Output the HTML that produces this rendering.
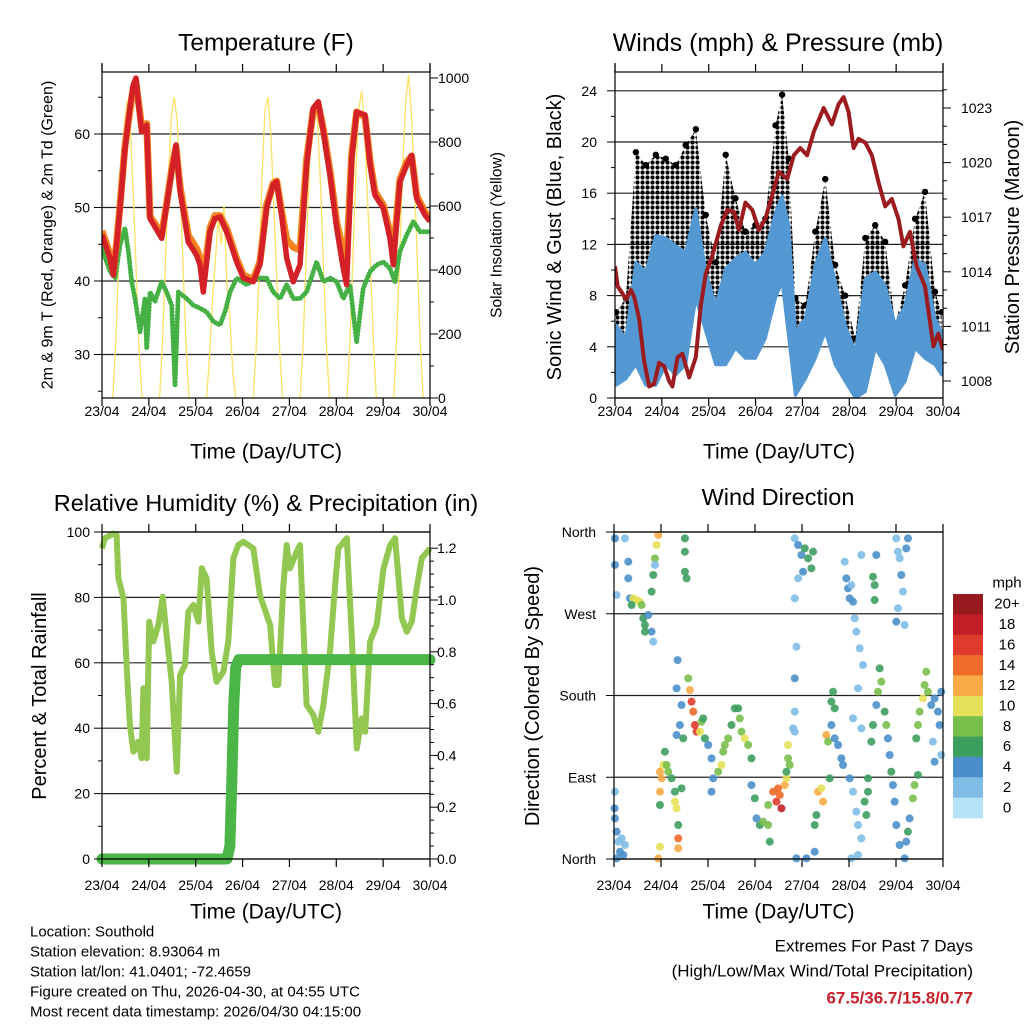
<!DOCTYPE html>
<html><head><meta charset="utf-8"><style>
html,body{margin:0;padding:0;background:#fff;}
svg{display:block;font-family:"Liberation Sans",sans-serif;}
</style></head><body>
<svg id="c" width="1024" height="1024" viewBox="0 0 1024 1024">
<defs>
<pattern id="dotpat" width="5" height="5" patternUnits="userSpaceOnUse">
<circle cx="2.5" cy="2.5" r="2.1" fill="#000"/>
</pattern>
</defs>
</svg>
<script>
// ---------- Temperature panel data ----------
const tempHours=[0,4.1,5.8,7.5,9.2,11.8,14.3,16.0,17.4,18.6,20.3,22.9,24.6,30.6,33.1,35.7,37.9,40.0,44.2,48.5,50.2,51.9,55.3,57.9,60.4,63.8,69.0,72.4,77.5,80.9,84.3,87.7,89.5,92.0,94.6,98.0,101.4,104.8,108.2,110.8,113.4,116.8,120.2,123.6,125.3,127.9,130.4,134.7,137.3,139.8,144.1,147.5,149.2,152.6,156.1,158.6,161.2,165.4,168];
const temp2m=[46.3,43.1,40.8,44.9,49.9,58.0,63.5,66.7,67.6,64.4,60.3,61.2,48.5,45.8,50.3,54.9,58.5,52.2,45.3,43.5,42.2,38.5,46.7,48.5,48.7,46.7,42.6,40.4,39.9,42.2,49.9,53.1,53.5,49.0,43.1,39.9,42.2,55.8,63.5,64.4,60.3,54.4,47.2,41.7,39.5,56.7,63.0,62.6,55.8,51.7,49.9,45.8,42.2,53.5,55.8,57.1,51.2,49.0,48.1];
const temp9m=[46.8,43.6,41.3,45.2,50.3,58.4,63.2,66.2,67.0,64.6,61.0,61.4,48.8,46.4,50.5,55.2,58.2,52.8,46.2,44.4,43.2,40.0,47.2,48.9,48.9,47.2,43.0,40.8,40.2,42.6,50.3,53.3,53.6,49.5,45.6,44.6,44.2,56.5,63.2,64.0,60.6,55.0,48.0,44.0,43.0,57.2,63.0,62.3,56.3,52.2,50.3,46.6,43.5,53.8,56.2,57.0,51.6,49.4,48.4];
const dewHours=[0,4.1,6.7,9.2,11.8,13.5,15.2,16.9,19.5,22.0,22.9,24.6,27.1,30.6,33.1,35.7,37.4,39.1,43.4,46.8,50.2,53.6,57.0,60.4,63.0,65.6,69.0,74.1,79.2,84.3,87.7,91.2,94.6,98.0,101.4,104.8,109.9,113.4,116.8,120.2,123.6,127.0,130.4,133.8,137.3,140.7,144.1,147.5,150.0,152.6,156.1,159.5,162.9,168];
const dew2m=[44.4,41.3,40.4,44.9,47.2,44.0,39.9,37.6,33.1,37.6,30.8,38.5,37.2,39.9,38.5,36.7,25.9,38.5,37.6,36.7,36.3,35.8,34.5,34.0,35.8,38.5,40.4,39.5,40.4,40.4,38.5,37.6,39.5,37.6,37.6,38.5,42.6,39.9,40.4,39.9,37.6,39.5,31.7,39.0,41.3,42.2,42.6,41.7,39.9,44.0,46.3,48.1,46.7,46.7];
const solarHours=[5.5,7,8.5,10,11.5,13,14.5,16,17.5,19,20.5, 29.5,31,32.5,34,35.5,37,38.5,40,41.5,43,44.5, 53.5,55,56.5,58,59.5,61,62.5,64,65.5,67,68.5, 77.5,79,80.5,82,83.5,85,86.5,88,89.5,91,92.5, 101.5,103,104.5,106,107.5,109,110.5,112,113.5,115,116.5, 125.5,127,128.5,130,131.5,133,134.5,136,137.5,139,140.5, 149.5,151,152.5,154,155.5,157,158.5,160,161.5,163,164.5];
const solarVals=[0,170,420,650,860,930,850,640,400,150,0, 0,180,430,680,880,940,870,660,420,170,0, 0,120,300,420,560,480,600,350,250,80,0, 0,160,400,700,900,940,820,600,380,150,0, 0,170,430,690,880,920,860,650,400,160,0, 0,180,440,700,900,960,850,620,420,170,0, 0,200,450,720,920,1010,880,680,430,180,0];
const tempTicks=[30,40,50,60];
const solarTicks=[0,200,400,600,800,1000];
const dayLabels=["23/04","24/04","25/04","26/04","27/04","28/04","29/04","30/04"];
// ---------- Wind panel data ----------
const windHours=[0.5,5.6,10.7,15.8,20.9,26.0,31.1,36.2,41.4,46.5,51.6,56.7,61.7,66.8,71.9,77.0,82.2,85.6,89.0,92.4,97.5,102.6,107.7,112.8,117.9,123.1,128.2,133.3,138.4,143.5,148.6,153.7,158.8,163.9,167.3];
const sustHigh=[5.7,4.65,10.6,9.85,12.7,12.5,11.9,11.4,14.8,9.85,7.25,10.1,10.9,11.4,10.4,11.4,14.5,15.8,13.5,5.2,6.2,10.4,12.5,9.1,5.7,3.6,9.3,9.85,8.8,5.7,7.25,10.9,10.4,6.2,5.2];
const sustLow=[1.0,1.5,2.6,1.0,1.0,2.6,1.8,2.6,7.8,5.2,2.6,2.6,3.9,3.1,3.1,4.65,7.8,9.1,4.65,0.2,1.5,3.1,5.2,2.6,1.3,0,0.5,3.9,2.6,0.2,1.3,3.9,3.1,2.6,1.8];
const gustHigh=[6.7,7.8,19.2,18.2,19.0,18.7,18.2,19.75,21.0,14.3,10.6,19.0,15.6,13.0,13.5,14.0,21.3,23.7,18.7,7.8,7.25,13.0,17.1,10.4,8.0,4.65,12.5,13.5,12.2,5.7,8.8,14.0,16.1,8.3,6.7];
const gustLow=[3.6,3.6,9.1,7.8,9.1,9.85,8.3,11.4,12.5,7.8,5.7,10.4,7.8,6.5,7.25,7.8,12.5,15.6,9.1,2.6,3.1,3.9,10.4,5.2,3.9,1.3,5.2,7.8,6.2,4.4,4.65,7.8,9.1,4.65,3.9];
const presHours=[0,1.4,3.9,5.6,8.2,9.9,12.4,14.9,17.5,20.1,22.6,25.2,27.7,29.4,32.0,34.5,38.0,41.4,43.9,46.5,49.9,54.1,57.5,60.9,63.5,66.8,70.3,73.7,77.0,80.5,83.9,88.2,91.6,94.9,98.4,101.8,106.9,111.1,114.5,117.1,119.6,122.2,124.7,128.2,131.6,135.0,138.4,141.8,145.2,147.7,151.1,154.5,158.8,163.1,165.6,168];
const presVals=[1014.3,1013.2,1012.8,1012.5,1013.0,1012.6,1011.4,1009.1,1007.7,1007.85,1009.0,1008.8,1008.0,1007.7,1009.3,1009.5,1008.2,1009.3,1012.1,1013.9,1014.9,1016.5,1017.4,1017.3,1016.3,1017.8,1017.4,1016.3,1016.9,1018.2,1019.5,1019.1,1020.4,1020.8,1020.4,1021.7,1023.0,1022.1,1023.2,1023.6,1022.8,1020.8,1021.3,1021.1,1020.4,1018.9,1017.6,1018.0,1016.9,1015.4,1016.2,1014.3,1013.2,1009.9,1010.6,1009.7];
const windTicks=[0,4,8,12,16,20,24];
const presTicks=[1008,1011,1014,1017,1020,1023];
// ---------- RH panel data ----------
const rhHours=[0,1.5,5.8,7.5,8.4,11.0,12.6,14.3,16.1,18.6,20.3,21.2,22.9,24.2,26.3,28.9,31.1,33.1,35.7,38.3,40.0,42.5,44.2,46.8,49.4,51.1,53.6,56.2,58.7,62.2,64.7,67.3,69.8,72.4,77.5,80.9,86.1,88.6,90.3,92.9,94.6,96.3,99.7,101.4,103.1,104.8,108.3,110.8,113.4,116.8,119.4,121.1,125.4,127.9,130.5,133.0,134.8,137.3,140.7,144.2,147.6,150.1,153.6,156.1,158.7,161.2,163.8,168];
const rhVals=[95.0,98.1,99.5,99.1,85.8,79.7,59.3,41.0,32.8,35.9,30.8,52.2,30.8,72.6,66.5,71.6,80.2,68.5,54.2,26.7,56.3,59.3,75.6,77.7,72.6,88.9,85.8,63.4,54.2,57.3,66.5,92.0,96.0,97.0,95.0,80.7,71.6,53.2,53.2,83.8,96.0,88.9,94.0,96.0,71.6,47.1,44.0,38.9,47.1,63.4,83.8,95.0,98.1,68.5,33.8,43.0,38.9,66.5,71.6,88.9,96.0,98.1,73.6,69.5,72.6,82.8,92.0,95.0];
const precipHours=[0,64,65.5,66.5,67.5,68.5,70,168];
const precipVals=[0,0,0.05,0.3,0.6,0.74,0.77,0.77];
const rhTicks=[0,20,40,60,80,100];
const precipTicks=[0.0,0.2,0.4,0.6,0.8,1.0,1.2];
// ---------- Wind direction panel data ----------
const dirHours=[0.3,0.5,1.35,2.2,3.05,4.75,5.6,1.35,3.9,0.5, 0.5,0.5,1.35,5.6,7.3,7.3,8.15,
9.85,11.55,13.25,14.1,9.0,14.95,15.8,17.5,19.2,20.05,15.8, 19.2,20.05,20.9,21.75,22.6,20.9, 22.6,23.45,
23.45,24.3,25.15,26.85,27.7,29.4,23.45,23.45,26.0,31.1,31.1,31.95,32.8,32.8,32.8,34.5,31.95,33.65,35.35,34.5,
36.2,36.2,36.2,37.05,32.5,31.95,
37.9,38.75,39.6,40.45,41.3,42.15,43.85,44.7,45.55,46.4,48.1,49.8,50.65,49.8,
53.2,54.9,55.75,56.6,58.3,60.0,61.7,63.4,64.25,65.1,66.8,68.5,70.2,
70.2,71.9,72.75,74.45,76.15,78.7,79.55,78.7,
81.25,82.95,84.65,85.5,83.8,87.2,88.05,88.9,88.9,89.75,88.05,
92.3,94.0,95.7,97.4,99.1,100.8,101.65,96.55,94.0,92.3,93.15,92.3,92.3,92.3,91.45,93.15,98.25,
102.5,102.5,103.35,104.2,105.9,106.75,108.45,109.3,111.0,112.7,114.4,116.1,112.7,111.85,111.0,116.95,110.15,
117.8,118.65,119.5,120.35,122.05,122.9,123.75,121.2,125.45,127.15,126.3,132.25,133.1,133.1,133.95,
120.35,122.05,123.75,124.6,126.3,128.0,129.7,129.7,128.85,121.2,124.6,122.05,124.6,126.3,
131.4,132.25,133.95,134.8,135.65,136.5,138.2,139.05,139.9,140.75,141.6,142.45,143.3,
144.15,145.0,145.85,146.7,147.55,145.0,144.15,148.4,149.25,150.1,
144.15,145.85,148.4,149.25,150.1,150.95,152.65,153.5,155.2,
154.35,155.2,156.05,157.75,158.6,159.45,160.3,162.0,163.7,165.4,166.25,167.1,162.85,167.1,163.7];
const dirDegrees=[55.8,44.7,30.1,19.1,8.0,4.4,15.4,0.7,22.7,74.1, 353,323.7,290.6,353,327.3,309,287,
287,285.1,283.3,279.6,279.6,265,257.6,268.6,250.3,239.3,250.3, 294.3,312.7,331,345.7,356.7,323.7, 0.7,13.6,
96.1,88.8,103.5,103.5,96.1,88.8,74.1,59.4,118.1,74.1,63.1,55.8,37.4,22.7,11.7,77.8,136.5,147.5,132.8,169.5,
353,338.3,316.3,309,219,187.9,
198.9,186,173.2,162.2,147.5,140.2,140.2,151.2,154.8,132.8,125.5,110.8,88.8,74.1,
96.1,103.5,118.1,125.5,132.8,147.5,165.9,165.9,154.8,140.2,132.8,125.5,110.8,
81.4,66.8,44.7,37.4,41.1,37.4,19.1,59.4,
74.1,63.1,70.4,55.8,77.8,81.4,88.8,110.8,125.5,103.5,96.1,
353,345.7,334.7,342,331,320,338.3,316.3,309,287,233.7,198.9,162.2,140.2,143.8,0.7,0.7,
8.0,37.4,48.4,74.1,77.8,63.1,136.5,129.2,147.5,132.8,125.5,110.8,165.9,184.2,173.2,103.5,88.8,
327.3,309,298,287,283.3,265,250.3,301.6,231.9,213.6,334.7,310.8,301.6,285.1,334.7,
88.8,74.1,52.1,37.4,22.7,63.1,74.1,88.8,48.4,0.7,4.4,154.8,187.9,143.8,
129.2,147.5,169.5,184.2,209.9,195.2,162.2,147.5,132.8,114.5,96.1,81.4,63.1,
353,338.3,331,312.7,294.3,276,261.3,257.6,342,353,
37.4,15.4,0.7,19.1,30.1,44.7,66.8,81.4,92.5,
132.8,147.5,162.2,176.9,191.5,206.2,184.2,169.5,176.9,162.2,147.5,184.2,129.2,114.5,107.1];
const dirSpeeds=[4,4,4,3,4,4,2,4,2,2, 4,4,2,2,4,4,4,
10,10,10,8,6,6,6,4,4,2,6, 6,6,8,10,12,2, 12,10,
12,12,10,8,8,6,12,6,6,6,10,10,6,14,12,6,4,4,6,4,
6,6,6,6,4,4,
8,12,16,14,16,16,10,8,6,6,4,4,4,4,
8,10,8,8,8,6,6,6,8,8,10,8,6,
4,6,4,6,8,8,6,8,
14,16,14,18,14,12,10,8,10,8,6,
2,4,4,6,6,6,6,4,2,2,2,4,2,2,2,4,4,
4,6,6,12,10,12,12,8,4,4,4,4,6,6,6,4,6,
2,4,4,4,4,2,2,2,2,2,2,6,6,6,4,
4,2,2,2,2,6,6,6,6,2,2,2,2,2,
6,6,4,8,6,8,6,8,4,4,6,4,4,
2,2,2,4,2,2,4,2,4,4,
4,4,4,4,6,4,8,8,6,
6,8,8,10,8,8,8,4,4,4,4,4,2,2,4];
const dirTickDeg=[0,90,180,270,360];
const dirTickLabels=["North","East","South","West","North"];
const speedBins=[0,2,4,6,8,10,12,14,16,18,20];
const speedBinLabels=["0","2","4","6","8","10","12","14","16","18","20+"];
const speedColors=["#b5e2f8","#7fbde7","#4a8fca","#3d9f5f","#79bf4c","#e5e158","#f7aa45","#ef6a2b","#df3b2c","#c11e27","#971a1e"];

const NS="http://www.w3.org/2000/svg";
const svg=document.getElementById('c');
function mk(tag,attrs,parent){const e=document.createElementNS(NS,tag);for(const k in attrs)e.setAttribute(k,attrs[k]);(parent||svg).appendChild(e);return e;}
function txt(s,x,y,size,anchor,parent,extra){const e=mk('text',Object.assign({x:x,y:y,'font-size':size,'text-anchor':anchor||'middle','dominant-baseline':'central',fill:'#000'},extra||{}),parent);e.textContent=s;return e;}
function pts(xs,ys,fx,fy){return xs.map((h,i)=>fx(h).toFixed(1)+','+fy(ys[i]).toFixed(1)).join(' ');}

function frame(x0,x1,y0,y1,name){
  const g=mk('g',{});
  
  
  mk('rect',{x:x0,y:y0,width:x1-x0,height:y1-y0,fill:'none',stroke:'#000','stroke-width':1.2},g);
  return g;
}
function dayAxis(x0,x1,yTop,yBot,labelY,titleY,name){
  const g=mk('g',{});
  
  
  const fx=h=>x0+h*(x1-x0)/168;
  dayLabels.forEach((l,i)=>{
    const x=fx(i*24);
    mk('line',{x1:x,x2:x,y1:yBot,y2:yBot+8,stroke:'#000','stroke-width':1.2},g);
    mk('line',{x1:x,x2:x,y1:yTop,y2:yTop-8,stroke:'#000','stroke-width':1.2},g);
    const t=txt(l,x,labelY,14,'middle',g);
    
    
  });
  const tt=txt('Time (Day/UTC)',(x0+x1)/2,titleY,21,'middle',g);
  
  
}

// ================= PANEL 1 : Temperature =================
(function(){
  const X0=102,X1=430,Y0=72,Y1=398;
  const fx=h=>X0+h*(X1-X0)/168;
  const fy=t=>281-(t-40)*7.35;
  const fs=v=>398-v*0.32;
  const g=mk('g',{});
  
  
  const clip=mk('clipPath',{id:'cp1'},g);mk('rect',{x:X0,y:Y0,width:X1-X0,height:Y1-Y0},clip);
  tempTicks.forEach(t=>{mk('line',{x1:X0,x2:X1,y1:fy(t),y2:fy(t),stroke:'#222','stroke-width':1.2},g);});
  const plot=mk('g',{'clip-path':'url(#cp1)'},g);
  const s=mk('polyline',{points:pts(solarHours,solarVals,fx,fs),fill:'none',stroke:'#fde165','stroke-width':1.3},plot);
  
  
  const d=mk('polyline',{points:pts(dewHours,dew2m,fx,fy),fill:'none',stroke:'#45b043','stroke-width':5,'stroke-dasharray':'0.1 3.2','stroke-linecap':'round','stroke-linejoin':'round'},plot);
  
  
  const o=mk('polyline',{points:pts(tempHours,temp9m,fx,fy),fill:'none',stroke:'#f4821f','stroke-width':7,'stroke-linejoin':'round'},plot);
  
  
  const r=mk('polyline',{points:pts(tempHours,temp2m,fx,fy),fill:'none',stroke:'#d42027','stroke-width':5.5,'stroke-linejoin':'round'},plot);
  
  
  frame(X0,X1,Y0,Y1,'temperature');
  mk('line',{x1:X0,x2:X0,y1:63,y2:Y0,stroke:'#000','stroke-width':1.2},g);
  mk('line',{x1:X1,x2:X1,y1:63,y2:Y0,stroke:'#000','stroke-width':1.2},g);
  for(let t=25;t<=65;t+=5){const y=fy(t);if(y<Y0||y>Y1)continue;const L=t%10===0?8:4;mk('line',{x1:X0-L,x2:X0,y1:y,y2:y,stroke:'#000'},g);}
  tempTicks.forEach(t=>{const e=txt(String(t),X0-12,fy(t),14,'end',g);
    
    });
  for(let v=0;v<=1000;v+=100){const L=v%200===0?8:4;mk('line',{x1:X1,x2:X1+L,y1:fs(v),y2:fs(v),stroke:'#000'},g);}
  solarTicks.forEach(v=>{const e=txt(String(v),X1+8,fs(v),14,'start',g);
    
    });
  dayAxis(X0,X1,Y0,Y1,411,452,'temperature');
  const t=txt('Temperature (F)',266,43,24.5,'middle',g);
  
  
  const yl=txt('2m & 9m T (Red, Orange) & 2m Td (Green)',0,0,16,'middle',g,{transform:'translate(48,235) rotate(-90)'});
  
  
  const yr=txt('Solar Insolation (Yellow)',0,0,15.5,'middle',g,{transform:'translate(497,235) rotate(-90)'});
  
  
})();

// ================= PANEL 2 : Winds & Pressure =================
(function(){
  const X0=615,X1=943,Y0=72,Y1=398;
  const fx=h=>X0+h*(X1-X0)/168;
  const fy=m=>398-m*12.8;
  const fp=p=>381-(p-1008)*18.2;
  const g=mk('g',{});
  
  
  const clip=mk('clipPath',{id:'cp2'},g);mk('rect',{x:X0,y:Y0,width:X1-X0,height:Y1-Y0},clip);
  windTicks.forEach(m=>{mk('line',{x1:X0,x2:X1,y1:fy(m),y2:fy(m),stroke:'#222','stroke-width':1.2},g);});
  const plot=mk('g',{'clip-path':'url(#cp2)'},g);
  const band=(hi,lo)=>windHours.map((h,i)=>fx(h).toFixed(1)+','+fy(hi[i]).toFixed(1)).join(' ')+' '+windHours.slice().reverse().map((h,j)=>{const i=windHours.length-1-j;return fx(h).toFixed(1)+','+fy(lo[i]).toFixed(1);}).join(' ');
  const gb=mk('polygon',{points:band(gustHigh,gustLow),fill:'url(#dotpat)',stroke:'none'},plot);
  
  
  windHours.forEach((h,i)=>{const c=mk('circle',{cx:fx(h),cy:fy(gustHigh[i]),r:3.2,fill:'#000'},plot);
    
    });
  const sb=mk('polygon',{points:band(sustHigh,sustLow),fill:'#5398d2',stroke:'#5398d2','stroke-width':3,'stroke-linejoin':'round'},plot);
  
  
  const p=mk('polyline',{points:pts(presHours,presVals,fx,fp),fill:'none',stroke:'#9b1b1f','stroke-width':4,'stroke-linejoin':'round'},plot);
  
  
  frame(X0,X1,Y0,Y1,'wind');
  mk('line',{x1:X0,x2:X0,y1:63,y2:Y0,stroke:'#000','stroke-width':1.2},g);
  mk('line',{x1:X1,x2:X1,y1:63,y2:Y0,stroke:'#000','stroke-width':1.2},g);
  for(let m=0;m<=26;m+=2){const y=fy(m);if(y<Y0)continue;const L=m%4===0?8:4;mk('line',{x1:X0-L,x2:X0,y1:y,y2:y,stroke:'#000'},g);}
  windTicks.forEach(m=>{const e=txt(String(m),597,fy(m),14,'end',g);
    
    });
  for(let v=1007;v<=1024;v++){const y=fp(v);if(y<Y0||y>Y1)continue;const L=(v-1008)%3===0?8:4;mk('line',{x1:X1,x2:X1+L,y1:y,y2:y,stroke:'#000'},g);}
  presTicks.forEach(v=>{const e=txt(String(v),961,fp(v),14,'start',g);
    
    });
  dayAxis(X0,X1,Y0,Y1,411,452,'wind');
  const t=txt('Winds (mph) & Pressure (mb)',778,43,25,'middle',g);
  
  
  const yl=txt('Sonic Wind & Gust (Blue, Black)',0,0,20,'middle',g,{transform:'translate(555,237) rotate(-90)'});
  
  
  const yr=txt('Station Pressure (Maroon)',0,0,20,'middle',g,{transform:'translate(1013,237) rotate(-90)'});
  
  
})();

// ================= PANEL 3 : RH & Precip =================
(function(){
  const X0=102,X1=430,Y0=532,Y1=859;
  const fx=h=>X0+h*(X1-X0)/168;
  const fy=v=>859-v*3.27;
  const fr=v=>859-v*259;
  const g=mk('g',{});
  
  
  const clip=mk('clipPath',{id:'cp3'},g);mk('rect',{x:X0-8,y:Y0-2,width:X1-X0+16,height:Y1-Y0+8},clip);
  rhTicks.forEach(v=>{mk('line',{x1:X0,x2:X1,y1:fy(v),y2:fy(v),stroke:'#222','stroke-width':1.2},g);});
  const plot=mk('g',{'clip-path':'url(#cp3)'},g);
  const rh=mk('polyline',{points:pts(rhHours,rhVals,fx,fy),fill:'none',stroke:'#92c852','stroke-width':6,'stroke-linejoin':'round'},plot);
  
  
  const pr=mk('polyline',{points:pts(precipHours,precipVals,fx,fr),fill:'none',stroke:'#4bb548','stroke-width':11,'stroke-linejoin':'round','stroke-linecap':'round'},plot);
  
  
  frame(X0,X1,Y0,Y1,'humidity');
  for(let v=0;v<=100;v+=10){const L=v%20===0?8:4;mk('line',{x1:X0-L,x2:X0,y1:fy(v),y2:fy(v),stroke:'#000'},g);}
  rhTicks.forEach(v=>{const e=txt(String(v),X0-12,fy(v),14,'end',g);
    
    });
  for(let i=0;i<=24;i++){const v=i*0.05;const L=i%4===0?8:4;mk('line',{x1:X1,x2:X1+L,y1:fr(v),y2:fr(v),stroke:'#000'},g);}
  precipTicks.forEach(v=>{const e=txt(v.toFixed(1),X1+7,fr(v),14,'start',g);
    
    });
  dayAxis(X0,X1,Y0,Y1,885,912,'humidity');
  const t=txt('Relative Humidity (%) & Precipitation (in)',266,503,23.5,'middle',g);
  
  
  const yl=txt('Percent & Total Rainfall',0,0,20,'middle',g,{transform:'translate(40,696) rotate(-90)'});
  
  
})();

// ================= PANEL 4 : Wind Direction =================
(function(){
  const X0=614,X1=943,Y0=532,Y1=859;
  const fx=h=>X0+h*(X1-X0)/168;
  const fy=d=>859-d*0.9083;
  const g=mk('g',{});
  
  
  dirTickDeg.forEach(d=>{mk('line',{x1:X0,x2:X1,y1:fy(d),y2:fy(d),stroke:'#222','stroke-width':1.2},g);});
  const plot=mk('g',{},g);
  const binOf=s=>{let b=0;speedBins.forEach((v,i)=>{if(s>=v)b=i;});return b;};
  dirHours.forEach((h,i)=>{
    const c=mk('circle',{cx:fx(h),cy:fy(dirDegrees[i]),r:4,fill:speedColors[binOf(dirSpeeds[i])],'fill-opacity':0.9},plot);
    
    
  });
  frame(X0,X1,Y0,Y1,'wind-direction');
  dirTickDeg.forEach((d,i)=>{
    mk('line',{x1:X0-8,x2:X0,y1:fy(d),y2:fy(d),stroke:'#000'},g);
    const e=txt(dirTickLabels[i],596,fy(d),14,'end',g);
    
    
  });
  dayAxis(X0,X1,Y0,Y1,885,912,'wind-direction');
  const t=txt('Wind Direction',778,497,23.5,'middle',g);
  
  
  const yl=txt('Direction (Colored By Speed)',0,0,20,'middle',g,{transform:'translate(533,696) rotate(-90)'});
  
  
  const cb=mk('g',{},g);
  
  
  const top=594,bh=(818-594)/speedBins.length;
  speedBins.forEach((v,i)=>{
    const k=speedBins.length-1-i;
    const r=mk('rect',{x:953,y:top+i*bh,width:30,height:bh+0.3,fill:speedColors[k]},cb);
    
    
    const e=txt(speedBinLabels[k],1007,top+i*bh+bh/2,15,'middle',cb);
    
    
  });
  const u=txt('mph',1007,583,15,'middle',cb);
  
  
})();

// ================= Footer text =================
(function(){
  const g=mk('g',{});
  
  
  const lines=["Location: Southold","Station elevation: 8.93064 m","Station lat/lon: 41.0401; -72.4659","Figure created on Thu, 2026-04-30, at 04:55 UTC","Most recent data timestamp: 2026/04/30 04:15:00"];
  lines.forEach((l,i)=>{const e=txt(l,30,932+i*20,15,'start',g);
    
    });
  const h=mk('g',{});
  
  
  const a=txt('Extremes For Past 7 Days',973,946,17,'end',h);
  
  
  const b=txt('(High/Low/Max Wind/Total Precipitation)',973,971,17,'end',h);
  
  
  const c=txt('67.5/36.7/15.8/0.77',973,998,17,'end',h,{fill:'#c8202a','font-weight':'bold'});
  
  
})();
</script>
</body></html>
